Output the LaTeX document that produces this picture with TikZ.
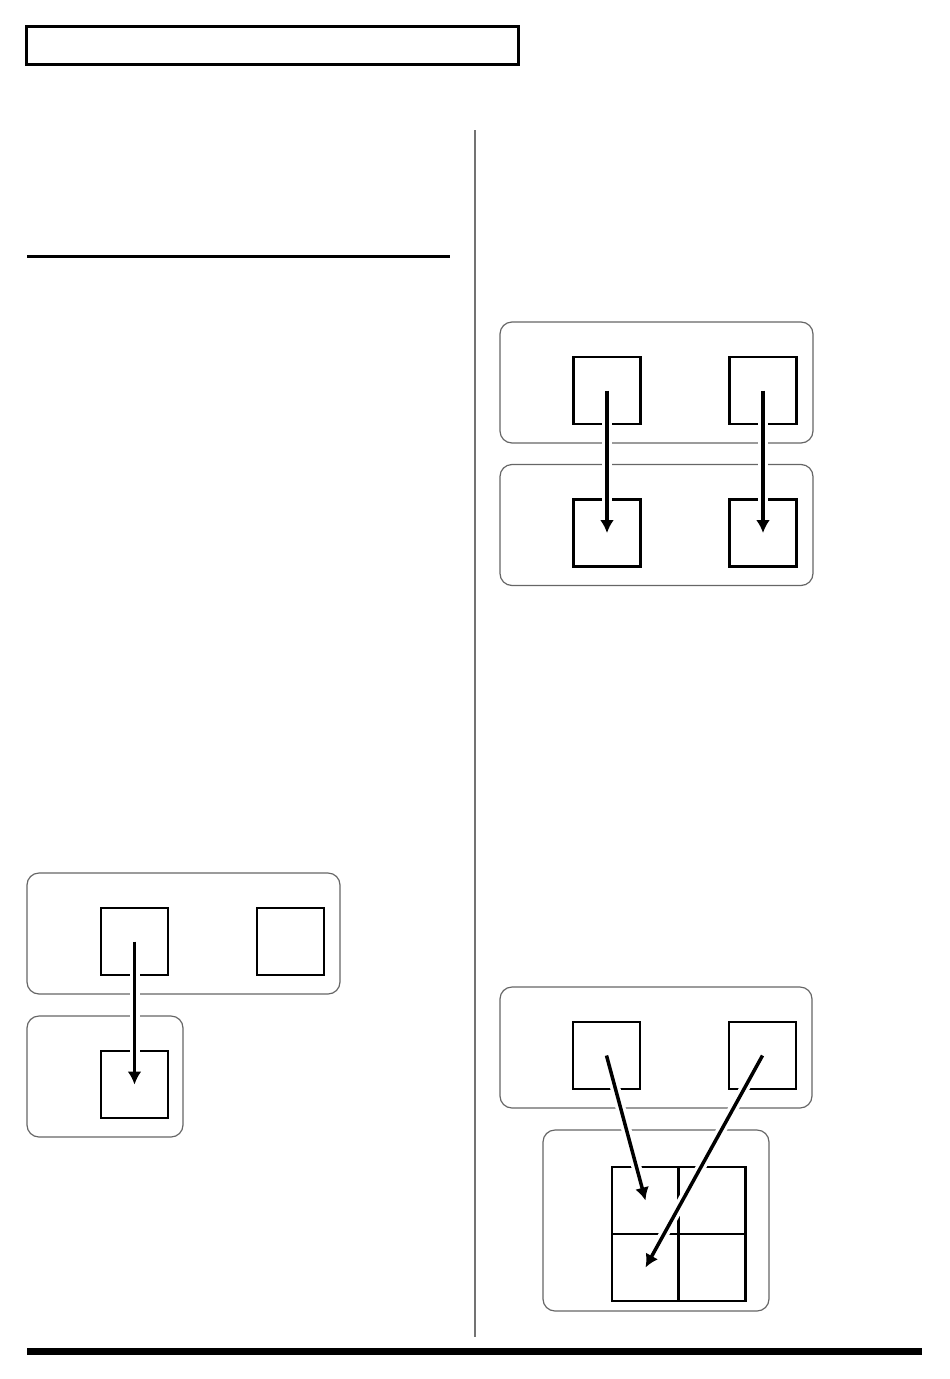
\documentclass[tikz,border=0pt]{standalone}
\usetikzlibrary{arrows.meta}
\begin{document}
\begin{tikzpicture}[x=1pt,y=-1pt,
    panel/.style={draw=black!60,line width=1.2pt,rounded corners=12pt,inner sep=0pt},
    key/.style={draw,line width=2.2pt,minimum size=67pt,inner sep=0pt},
    link/.style={-{Latex[length=13pt,width=14pt]},line width=3.5pt,
      preaction={draw=white,line width=10pt,-,shorten >=14pt}}]
  \useasboundingbox (0,0) rectangle (950,1379);
  % page furniture
  \draw[line width=3pt] (26,26) rectangle (518,64);
  \draw[line width=3pt] (27,256) -- (450,256);
  \draw[black!55,line width=2pt] (475,130) -- (475,1337);
  \draw[line width=7pt] (27,1351) -- (922,1351);

  % upper right: two to two
  \draw
    (656.5,382.5) node[panel,minimum width=313pt,minimum height=121pt] (pa) {}
    (656.5,525)   node[panel,minimum width=313pt,minimum height=121pt] (pb) {}
    (607,390.5)   node[key] (a1) {}
    (763,390.5)   node[key] (a2) {}
    (607,533)     node[key] (b1) {}
    (763,533)     node[key] (b2) {};
  \draw[link] (a1.center) -- (b1.center);
  \draw[link] (a2.center) -- (b2.center);

  % lower left: one to one
  \draw
    (183.5,933.5) node[panel,minimum width=313pt,minimum height=121pt] (pc) {}
    (105,1076.5)  node[panel,minimum width=156pt,minimum height=121pt] (pd) {}
    (134.5,941.5) node[key] (c1) {}
    (290.5,941.5) node[key] (c2) {}
    (134.5,1084.5) node[key] (d1) {};
  \draw[link] (c1.center) -- (d1.center);

  % lower right: two into a grid of four
  \draw
    (656,1047.5)  node[panel,minimum width=312pt,minimum height=121pt] (pe) {}
    (656,1220.5)  node[panel,minimum width=226pt,minimum height=181pt] (pf) {}
    (606.5,1055.5) node[key] (e1) {}
    (762.5,1055.5) node[key] (e2) {}
    (645.5,1200.5) node[key] (g1) {}
    (712,1200.5)   node[key] (g2) {}
    (645.5,1267.5) node[key] (g3) {}
    (712,1267.5)   node[key] (g4) {};
  \draw[link] (e1.center) -- (g1.center);
  \draw[link] (e2.center) -- (g3.center);
\end{tikzpicture}
\end{document}
